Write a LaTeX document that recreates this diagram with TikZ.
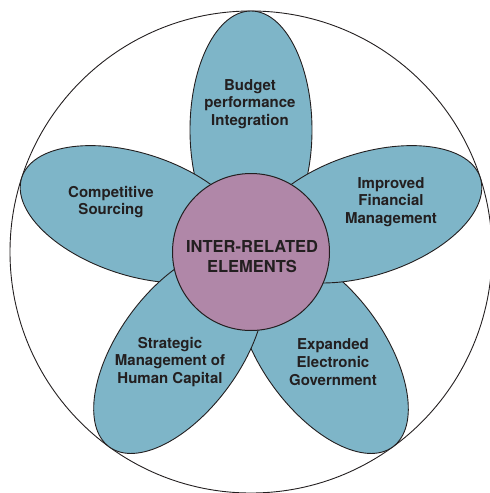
\documentclass[tikz,border=0pt]{standalone}
\usepackage{fontspec}
\setmainfont{TeX Gyre Heros}
\definecolor{petalblue}{RGB}{126,181,200}
\definecolor{hubpurple}{RGB}{176,135,168}
\definecolor{ink}{RGB}{35,31,32}
\begin{document}
\begin{tikzpicture}[x=1pt,y=-1pt,
  petal/.style={fill=petalblue,draw=ink,line width=0.9pt},
  lbl/.style={align=center,text=ink,font=\bfseries\fontsize{15}{17.8}\selectfont,inner sep=0pt},
  hub/.style={circle,fill=hubpurple,draw=ink,line width=1pt,minimum size=157pt,inner sep=0pt},
  hubtext/.style={align=center,text=ink,inner sep=0pt,font=\bfseries\fontsize{16.5}{20}\selectfont}]
\useasboundingbox (0,0) rectangle (490,493);
\begin{scope}
\clip (0,0) rectangle (490,493);
\draw[draw=ink,line width=0.9pt] (251,252) circle [radius=241];
\end{scope}
\begin{scope}[shift={(251,252)}]
\foreach \a in {90,-54,18,162,-126}{
  \draw[petal,rotate=\a] (122,0) ellipse [x radius=119, y radius=61];
}
\end{scope}
\node[hub] (hub) at (251,252) {};
\node[hubtext] (hubtxt) at (252,257) {INTER-RELATED\\ELEMENTS};
\node[lbl] (budget) at (250,104) {Budget\\performance\\Integration};
\node[lbl] (sourcing) at (111,202) {Competitive\\Sourcing};
\node[lbl] (finance) at (391,202) {Improved\\Financial\\Management};
\node[lbl] (human) at (170,362) {Strategic\\Management of\\Human Capital};
\node[lbl] (egov) at (333,362) {Expanded\\Electronic\\Government};
\end{tikzpicture}
\end{document}
